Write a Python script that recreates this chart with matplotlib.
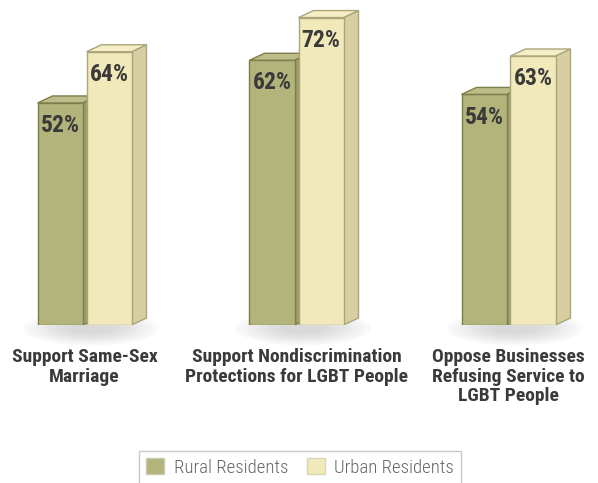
import matplotlib.pyplot as plt
from matplotlib.patches import Polygon, Ellipse, Patch
from matplotlib import font_manager

categories = ["Support Same-Sex\nMarriage",
              "Support Nondiscrimination\nProtections for LGBT People",
              "Oppose Businesses\nRefusing Service to\nLGBT People"]
rural = [52, 62, 54]
urban = [64, 72, 63]
series_names = ["Rural Residents", "Urban Residents"]

# pick a condensed face if one is installed
names = set(f.name for f in font_manager.fontManager.ttflist)
cond = "DejaVu Sans"
for c in ["Roboto Condensed", "Liberation Sans Narrow", "Barlow Semi Condensed"]:
    if c in names:
        cond = c
        break
plt.rcParams['font.family'] = [cond, 'DejaVu Sans']

W, H = 598, 483
fig = plt.figure(figsize=(W / 100, H / 100), dpi=100)
ax = fig.add_axes([0, (H - 325) / H, 1, 325 / H])
ax.set_xlim(-84.5 / 212, (W - 84.5) / 212)
ax.set_ylim(0, 325 / 4.27)
ax.axis('off')

bw = 45 / 212
off = 24.5 / 212
dx = 15 / 212
dy = 7 / 4.27

styles = [
    dict(front="#b2b47b", top="#bcbd88", side="#9c9e68", edge="#7c7e4c"),
    dict(front="#f2e9bb", top="#f5edc6", side="#d7cfa2", edge="#aaa67c"),
]


def draw_bar(x, h, st, z):
    ax.bar(x, h, width=bw, color=st["front"], edgecolor=st["edge"], linewidth=1, zorder=z)
    l, r = x - bw / 2, x + bw / 2
    ax.add_patch(Polygon([(l, h), (r, h), (r + dx, h + dy), (l + dx, h + dy)],
                         closed=True, facecolor=st["top"], edgecolor=st["edge"], lw=1, zorder=z))
    ax.add_patch(Polygon([(r, 0), (r + dx, dy), (r + dx, h + dy), (r, h)],
                         closed=True, facecolor=st["side"], edgecolor=st["edge"], lw=1, zorder=z - 0.5))


for i in range(len(categories)):
    # soft floor shadow
    for k in range(8):
        ax.add_patch(Ellipse((i + 0.03, -0.8), 0.64 - k * 0.06, 8 - k * 0.8,
                             facecolor="#8a8a8a", alpha=0.045, lw=0, zorder=1, clip_on=False))
    draw_bar(i - off, rural[i], styles[0], 3)
    draw_bar(i + off, urban[i], styles[1], 5)
    for x, v in [(i - off, rural[i]), (i + off, urban[i])]:
        ax.text(x, v - 2.6, f"{v}%", ha="center", va="top", fontsize=17,
                fontweight="bold", color="#3a3a3a", zorder=10)
    ax.text(i, -5.5, categories[i], ha="center", va="top", fontsize=14,
            fontweight="bold", color="#3a3a3a", linespacing=1.08, clip_on=False)

handles = [Patch(facecolor=styles[0]["front"], edgecolor="#c9c9b0"),
           Patch(facecolor=styles[1]["front"], edgecolor="#d9d5b8")]
leg = fig.legend(handles, series_names, loc="lower center",
                 bbox_to_anchor=(300 / W, -0.022), ncol=2, fontsize=13.5,
                 frameon=True, fancybox=False, edgecolor="#bbbbbb",
                 handlelength=0.95, handleheight=0.95, columnspacing=1.0,
                 handletextpad=0.5, borderpad=0.4)
for t in leg.get_texts():
    t.set_color("#666666")
    t.set_fontweight("light")

fig.savefig("out.png", dpi=100)
